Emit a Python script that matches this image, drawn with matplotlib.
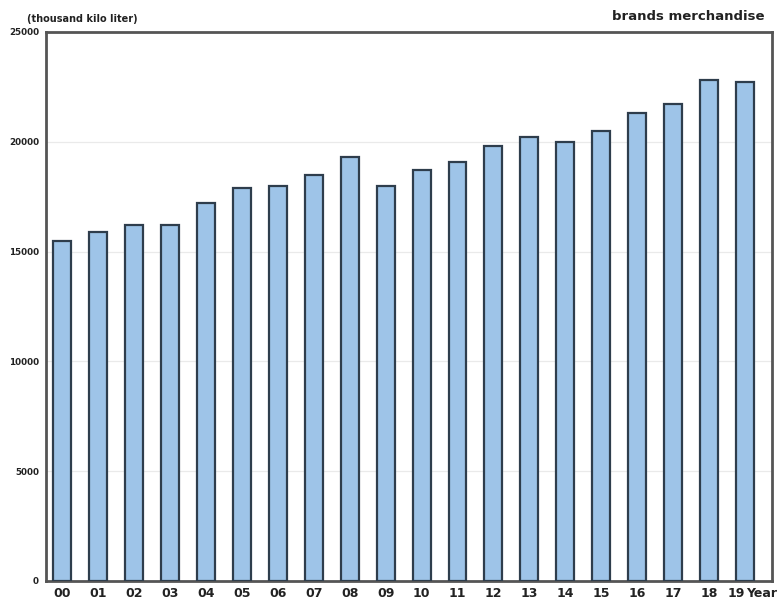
import matplotlib.pyplot as plt
import numpy as np

# Yearly volume, thousand kilo liter
years  = ['00', '01', '02', '03', '04', '05', '06', '07', '08', '09',
          '10', '11', '12', '13', '14', '15', '16', '17', '18', '19']
volume = [15500, 15900, 16200, 16200, 17200, 17900, 18000, 18500, 19300, 18000,
          18700, 19100, 19800, 20200, 20000, 20500, 21300, 21700, 22800, 22700]
yticks = [0, 5000, 10000, 15000, 20000, 25000]

barColor  = '#9ec4e8'
edgeColor = '#2e3d4c'
textColor = '#222222'

fig = plt.figure(figsize=(7.82, 6.01), dpi=100)
ax  = fig.add_axes([0.0588, 0.0333, 0.9284, 0.9135])

x = np.arange(len(years))
ax.bar(x, volume, width=0.5, color=barColor, edgecolor=edgeColor, linewidth=1.6, zorder=3)

ax.set_ylim(0, 25000)
ax.set_xlim(-0.45, 19.75)
ax.set_yticks(yticks)
ax.set_yticklabels([str(t) for t in yticks], fontsize=6.3, fontweight='bold', color=textColor)
ax.set_xticks(x)
ax.set_xticklabels(years, fontsize=9, fontweight='bold', color=textColor)
ax.tick_params(axis='y', length=0, pad=5)
ax.tick_params(axis='x', length=0, pad=4)

# nudge the last year label left so the unit fits after it
lastLbl = ax.get_xticklabels()[-1]
lastLbl.set_horizontalalignment('right')
lastLbl.set_x(19.1)

ax.grid(axis='y', color='#eaeaea', linestyle='-', linewidth=0.9, zorder=0)
for side in ax.spines.values():
  side.set_color('#555555')
  side.set_linewidth(2)

# Unit and series captions above the frame
fig.text(0.035, 0.960, '(thousand kilo liter)', fontsize=7, fontweight='bold', color=textColor, va='bottom')
fig.text(0.978, 0.962, 'brands merchandise', fontsize=9.5, fontweight='bold', color=textColor,
         ha='right', va='bottom')
# Axis unit right after the last tick label
ax.annotate('Year', xy=(19.02, 0), xycoords=ax.get_xaxis_transform(),
            xytext=(0, -4), textcoords='offset points', fontsize=9, fontweight='bold',
            color=textColor, ha='left', va='top', annotation_clip=False)

fig.savefig('out.png', dpi=100)
